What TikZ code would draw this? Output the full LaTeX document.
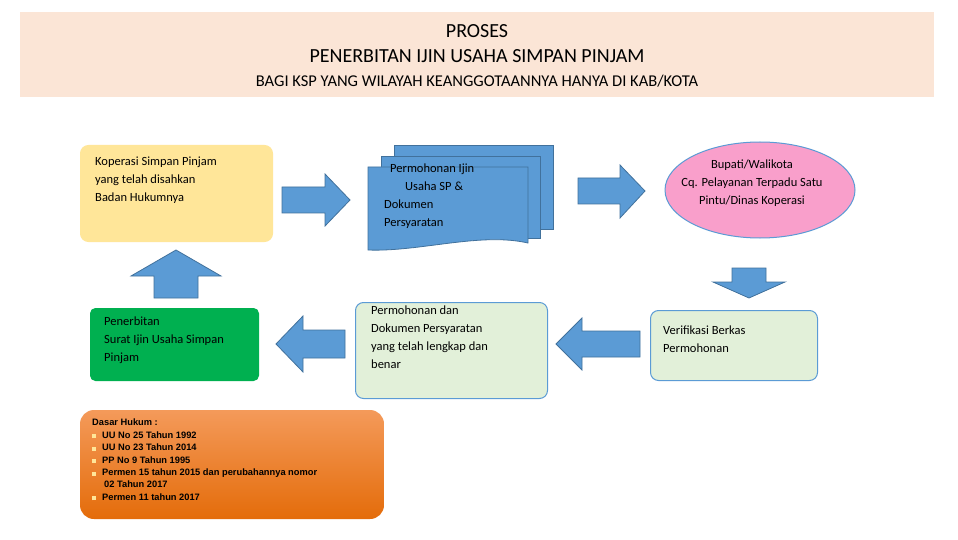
\documentclass[tikz,border=0pt]{standalone}
\usepackage{fontspec}
\setmainfont{Carlito}
\newfontfamily\arialf{Liberation Sans}
\definecolor{ablue}{HTML}{5B9BD5}
\definecolor{dblue}{HTML}{41719C}
\definecolor{peach}{HTML}{FBE5D6}
\definecolor{yel}{HTML}{FFE699}
\definecolor{lgreen}{HTML}{E2F0D9}
\definecolor{pink}{HTML}{F99FCB}
\definecolor{grn}{HTML}{00B050}
\newcommand{\bul}{\textcolor{yel}{\rule{4pt}{4pt}}\hspace{6pt}}
\begin{document}
\begin{tikzpicture}[x=1pt,y=-1pt,
 barrow/.style={fill=ablue,draw=dblue,line width=0.8pt,line join=miter},
 box/.style={rounded corners=8pt,line width=1pt},
 txt/.style={font=\fontsize{12.5}{18}\selectfont,align=left,anchor=north west,inner sep=0pt}]
\useasboundingbox (0,0) rectangle (958,540);
\fill[white] (0,0) rectangle (958,540);
\node[fill=peach,minimum width=914pt,minimum height=85pt,anchor=north west,inner sep=0pt] (band) at (20,12) {};
\node (t1) at (477,31) {\fontsize{20}{24}\selectfont PROSES};
\node (t2) at (477,56) {\fontsize{20}{24}\selectfont PENERBITAN IJIN USAHA SIMPAN PINJAM};
\node (t3) at (477,81) {\fontsize{16.5}{20}\selectfont BAGI KSP YANG WILAYAH KEANGGOTAANNYA HANYA DI KAB/KOTA};
% yellow
\node[box,fill=yel,draw=yel,minimum width=192pt,minimum height=96pt,anchor=north west] (kop) at (80,145) {};
\node[txt] (kopt) at (95,157) {Koperasi Simpan Pinjam\\yang telah disahkan\\Badan Hukumnya};
% arrows
\draw[barrow] (282,187)--(325,187)--(325,174)--(350,200)--(325,226)--(325,213)--(282,213)--cycle;
\draw[barrow] (578,178)--(620,178)--(620,165)--(645,191)--(620,218)--(620,204)--(578,204)--cycle;
\draw[barrow] (732,268)--(766,268)--(766,282)--(785,282)--(749,298)--(713,282)--(732,282)--cycle;
\draw[barrow] (640,331)--(582,331)--(582,318)--(556,344)--(582,370)--(582,357)--(640,357)--cycle;
\draw[barrow] (345,330)--(303,330)--(303,316)--(276,344)--(303,372)--(303,358)--(345,358)--cycle;
\draw[barrow] (154,298)--(154,276)--(131,276)--(176,250)--(221,276)--(198,276)--(198,298)--cycle;
% documents
\draw[fill=ablue,draw=dblue,line width=0.8pt] (394,145) rectangle (553,229);
\draw[fill=ablue,draw=dblue,line width=0.8pt] (381,156) rectangle (540,238);
\draw[fill=ablue,draw=dblue,line width=0.8pt] (368,167) -- (528,167) -- (528,243) .. controls (480,232) and (420,252) .. (368,250) -- cycle;
\node[txt] (doct) at (384,164) {\hspace*{6pt}Permohonan Ijin\\\hspace*{21pt}Usaha SP \&\\Dokumen\\Persyaratan};
% ellipse
\draw[fill=pink,draw=ablue,line width=1pt] (760,190) ellipse (95pt and 48pt);
\node[align=center,font=\fontsize{12.5}{18}\selectfont] (bup) at (752,183) {Bupati/Walikota\\Cq. Pelayanan Terpadu Satu\\Pintu/Dinas Koperasi};
% verif
\node[box,fill=lgreen,draw=ablue,minimum width=167pt,minimum height=70pt,anchor=north west] (ver) at (650,310) {};
\node[txt] (vert) at (663,326) {Verifikasi Berkas\\Permohonan};
% permohonan dan
\node[box,fill=lgreen,draw=ablue,minimum width=192pt,minimum height=96pt,anchor=north west] (per) at (355,302) {};
\node[txt] (pert) at (371,306) {Permohonan dan\\Dokumen Persyaratan\\yang  telah lengkap dan\\benar};
% green
\node[box,rounded corners=5pt,fill=grn,draw=grn,minimum width=168pt,minimum height=72pt,anchor=north west] (grnb) at (90,308) {};
\node[txt] (grnt) at (104,317) {Penerbitan\\Surat Ijin Usaha Simpan\\Pinjam};
% orange
\shade[top color={rgb,255:red,244;green,154;blue,90},bottom color={rgb,255:red,228;green,108;blue,10},rounded corners=14pt] (80,410) rectangle (384,519);
\node[txt,font=\arialf\bfseries\fontsize{9.3}{12.4}\selectfont] (das) at (92,419) {Dasar Hukum :\\
\bul UU No 25 Tahun 1992\\
\bul UU No 23 Tahun 2014\\
\bul PP No 9 Tahun 1995\\
\bul Permen 15 tahun 2015 dan perubahannya nomor\\
\hspace*{12pt}02 Tahun 2017\\
\bul Permen 11 tahun 2017};
\end{tikzpicture}
\end{document}
